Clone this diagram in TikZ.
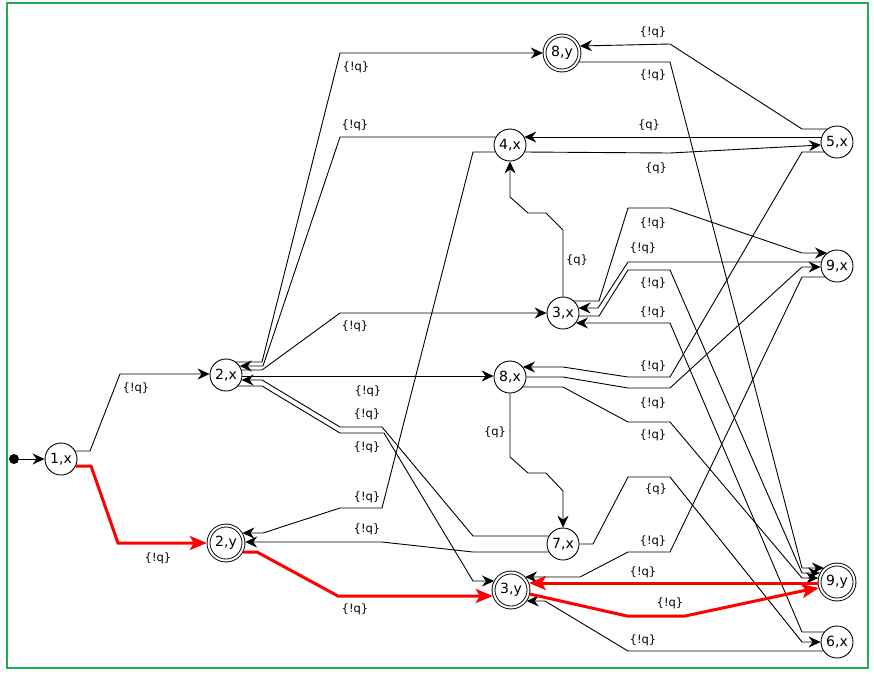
\documentclass[tikz,border=0pt]{standalone}
\usepackage{fontspec}
\setmainfont{DejaVu Sans}
\usetikzlibrary{arrows.meta,calc}
\definecolor{framegreen}{RGB}{30,175,85}
\begin{document}
\begin{tikzpicture}[x=1pt,y=-1pt,
  st/.style={circle,draw,fill=white,line width=0.9pt,minimum size=32pt,inner sep=0pt,font=\fontsize{14}{16}\selectfont},
  acc/.style={circle,draw,fill=white,line width=0.9pt,double,double distance=2pt,minimum size=35pt,inner sep=0pt,font=\fontsize{14}{16}\selectfont},
  lbl/.style={font=\fontsize{11.5}{13}\selectfont,inner sep=0pt},
  edge/.style={line width=0.9pt,-{Stealth[length=12pt,width=11pt,inset=4pt]}},
  redge/.style={line width=3pt,draw=red,-{Stealth[length=17pt,width=14pt,inset=4pt]}}]
\useasboundingbox (0,0) rectangle (874,675);
\draw[framegreen,line width=2pt] (7,3) rectangle (868,668);

% states
\node[circle,fill=black,minimum size=10pt,inner sep=0pt] (init) at (14,459) {};
\node[st]  (n1x) at (61,459)  {1,x};
\node[st]  (n2x) at (226,375) {2,x};
\node[acc] (n2y) at (226,543) {2,y};
\node[acc] (n8y) at (562,53)  {8,y};
\node[st]  (n4x) at (510,145) {4,x};
\node[st]  (n5x) at (837,142) {5,x};
\node[st]  (n9x) at (837,266) {9,x};
\node[st]  (n3x) at (563,313) {3,x};
\node[st]  (n8x) at (510,377) {8,x};
\node[st]  (n7x) at (563,544) {7,x};
\node[acc] (n3y) at (511,590) {3,y};
\node[acc] (n9y) at (837,582) {9,y};
\node[st]  (n6x) at (837,642) {6,x};

% transitions
\draw[edge] (init) -- (n1x);
\draw[edge] ($(n1x)+(14.3,-8)$) -- (90,451) -- (120,374) -- ($(n2x)+(-16.4,-1)$);
\draw[redge] ($(n1x)+(14.8,7)$) -- (91,466) -- (118,543) -- ($(n2y)+(-19.2,0)$);
\draw[edge] ($(n2x)+(10,-13)$) -- (262,362) -- (340,53) -- ($(n8y)+(-19.2,0)$);
\draw[edge] ($(n4x)+(-14.3,-8)$) -- (340,137) -- (263,366) -- ($(n2x)+(13.7,-9)$);
\draw[edge] ($(n2x)+(15.6,-5)$) -- (262,370) -- (340,313) -- ($(n3x)+(-16.4,0)$);
\draw[edge] ($(n2x)+(16.4,1)$) -- ($(n8x)+(-16.4,-1)$);
\draw[edge] ($(n7x)+(-14.3,-8)$) -- (473,536) -- (382,427) -- (340,427) -- (262,380) -- ($(n2x)+(15.6,5)$);
\draw[edge] ($(n2x)+(12.2,11)$) -- (262,386) -- (340,433) -- (384,433) -- (473,581) -- ($(n3y)+(-17,-9)$);
\draw[edge] ($(n4x)+(-14.8,7)$) -- (473,152) -- (382,508) -- (340,508) -- (263,533) -- ($(n2y)+(16.4,-10)$);
\draw[edge] ($(n7x)+(-14.3,8)$) -- (473,552) -- (382,542) -- ($(n2y)+(19.2,-1)$);
\draw[redge] ($(n2y)+(17,9)$) -- (257,552) -- (338,596) -- ($(n3y)+(-18.2,6)$);
\draw[edge] ($(n5x)+(-15.6,-5)$) -- ($(n4x)+(14.3,-8)$);
\draw[edge] ($(n4x)+(14.8,7)$) -- (670,153) -- ($(n5x)+(-16.1,3)$);
\draw[edge] ($(n3x)+(0,-16.4)$) -- (563,230) -- (546,213) -- (528,213) -- (510,197) -- ($(n4x)+(0,16.4)$);
\draw[edge] ($(n5x)+(-10,-13)$) -- (802,129) -- (670,44) -- ($(n8y)+(17.9,-7)$);
\draw[edge] ($(n8y)+(17,9)$) -- (670,62) -- (802,568) -- ($(n9y)+(-13.1,-14)$);
\draw[edge] ($(n3x)+(11.2,-12)$) -- (599,301) -- (628,208) -- (670,208) -- (802,253) -- ($(n9x)+(-10,-13)$);
\draw[edge] ($(n9x)+(-15.9,-4)$) -- (628,262) -- (598,308) -- ($(n3x)+(15.6,-5)$);
\draw[edge] ($(n3x)+(16.1,3)$) -- (599,316) -- (628,270) -- (670,270) -- (802,573) -- ($(n9y)+(-17,-9)$);
\draw[edge] ($(n6x)+(-13,-10)$) -- (802,632) -- (670,323) -- ($(n3x)+(13,10)$);
\draw[edge] ($(n5x)+(-13,10)$) -- (802,152) -- (670,377) -- (628,377) -- (563,367) -- ($(n8x)+(13,-10)$);
\draw[edge] ($(n8x)+(16.4,0)$) -- (563,377) -- (628,388) -- (670,388) -- (802,267) -- ($(n9x)+(-16.4,1)$);
\draw[edge] ($(n8x)+(13,10)$) -- (563,387) -- (628,422) -- (670,422) -- (802,578) -- ($(n9y)+(-18.8,-4)$);
\draw[edge] ($(n8x)+(0,16.4)$) -- (510,457) -- (528,473) -- (546,473) -- (563,491) -- ($(n7x)+(0,-16.4)$);
\draw[edge] ($(n9x)+(-12.2,11)$) -- (802,277) -- (670,552) -- (628,552) -- (580,577) -- ($(n3y)+(14.1,-13)$);
\draw[edge] ($(n7x)+(16.4,0)$) -- (593,544) -- (628,477) -- (670,477) -- (802,642) -- ($(n6x)+(-16.4,0)$);
\draw[edge] ($(n6x)+(-13.7,9)$) -- (628,651) -- (545,601) -- ($(n3y)+(15.7,11)$);
\draw[redge] ($(n9y)+(-19.2,1)$) -- ($(n3y)+(17.9,-7)$);
\draw[redge] ($(n3y)+(18.8,4)$) -- (627,616) -- (685,616) -- (802,591) -- ($(n9y)+(-18.2,6)$);

% labels
\node[lbl] (l1)  at (136,388) {\{!q\}};
\node[lbl] (l2)  at (158,558) {\{!q\}};
\node[lbl] (l3)  at (356,67)  {\{!q\}};
\node[lbl] (l4)  at (355,125) {\{!q\}};
\node[lbl] (l5)  at (355,326) {\{!q\}};
\node[lbl] (l6)  at (368,391) {\{!q\}};
\node[lbl] (l7)  at (367,414) {\{!q\}};
\node[lbl] (l8)  at (367,447) {\{!q\}};
\node[lbl] (l9)  at (367,497) {\{!q\}};
\node[lbl] (l10) at (367,529) {\{!q\}};
\node[lbl] (l11) at (355,609) {\{!q\}};
\node[lbl] (l12) at (649,125) {\{q\}};
\node[lbl] (l13) at (656,168) {\{q\}};
\node[lbl] (l14) at (577,260) {\{q\}};
\node[lbl] (l15) at (653,32)  {\{!q\}};
\node[lbl] (l16) at (653,75)  {\{!q\}};
\node[lbl] (l17) at (653,223) {\{!q\}};
\node[lbl] (l18) at (643,248) {\{!q\}};
\node[lbl] (l19) at (653,283) {\{!q\}};
\node[lbl] (l20) at (653,312) {\{!q\}};
\node[lbl] (l21) at (653,366) {\{!q\}};
\node[lbl] (l22) at (653,403) {\{!q\}};
\node[lbl] (l23) at (653,435) {\{!q\}};
\node[lbl] (l24) at (495,432) {\{q\}};
\node[lbl] (l25) at (656,489) {\{q\}};
\node[lbl] (l26) at (653,541) {\{!q\}};
\node[lbl] (l27) at (643,640) {\{!q\}};
\node[lbl] (l28) at (643,572) {\{!q\}};
\node[lbl] (l29) at (670,603) {\{!q\}};
\end{tikzpicture}
\end{document}
